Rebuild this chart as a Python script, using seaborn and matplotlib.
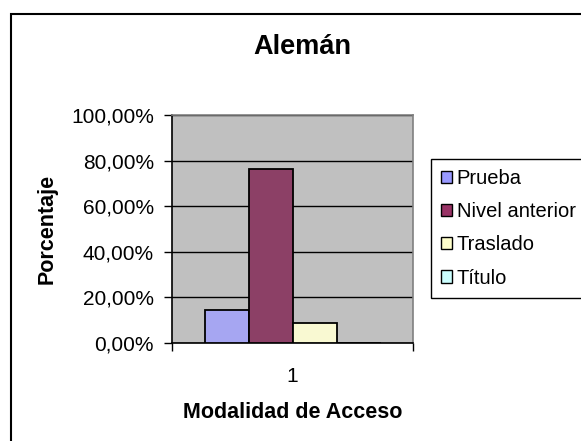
import matplotlib
matplotlib.use("Agg")
import matplotlib.pyplot as plt
import seaborn as sns
import pandas as pd
from matplotlib.ticker import FuncFormatter
from matplotlib.patches import Rectangle, Patch

categories = ["1"]
series = ["Prueba", "Nivel anterior", "Traslado", "Título"]
values = [14.5, 76.2, 8.8, 0.0]
colors = ["#9999FF", "#993366", "#FFFFCC", "#CCFFFF"]
y_ticks = [0, 20, 40, 60, 80, 100]

sns.set_theme(style="white")
plt.rcParams['font.family'] = ['Liberation Sans', 'DejaVu Sans']
plt.rcParams.update({"text.color": "black", "axes.labelcolor": "black",
                     "xtick.color": "black", "ytick.color": "black"})

df = pd.DataFrame({"Modalidad": categories * len(series), "Serie": series, "Valor": values})

fig = plt.figure(figsize=(5.81, 4.41), dpi=100)
fig.patch.set_facecolor("white")
ax = fig.add_axes([0.296, 0.222, 0.415, 0.517])
ax.set_facecolor("#C0C0C0")

sns.barplot(data=df, x="Modalidad", y="Valor", hue="Serie", hue_order=series,
            palette=colors, edgecolor="black", linewidth=1.3, width=0.73,
            ax=ax, legend=False, zorder=3)

ax.set_xlim(-0.5, 0.5)
ax.set_ylim(0, 100)
ax.set_yticks(y_ticks)
ax.yaxis.set_major_formatter(FuncFormatter(lambda v, p: f"{v:.2f}%".replace(".", ",")))
ax.grid(axis="y", color="black", linewidth=1.0, zorder=1)
ax.set_axisbelow(True)
ax.tick_params(axis="y", which="major", direction="out", length=6, width=1, color="black",
               labelsize=15, pad=7, left=True, labelcolor="black")
ax.set_xticks([0])
ax.set_xticklabels(categories)
ax.tick_params(axis="x", which="major", length=0, labelsize=15, pad=17, labelcolor="black")
ax.set_xticks([-0.5, 0.5], minor=True)
ax.tick_params(axis="x", which="minor", direction="out", length=6, width=1, color="black", bottom=True)

for s in ["left", "bottom"]:
    ax.spines[s].set_color("black")
    ax.spines[s].set_linewidth(1.2)
for s in ["top", "right"]:
    ax.spines[s].set_color("#808080")
    ax.spines[s].set_linewidth(1.2)

ax.set_xlabel("Modalidad de Acceso", fontsize=15.5, fontweight="bold", labelpad=12, color="black")
ax.set_ylabel("Porcentaje", fontsize=15.5, fontweight="bold", labelpad=10, color="black")

fig.text(0.52, 0.893, "Alemán", ha="center", va="center", fontsize=19.5, fontweight="bold",
         color="black")

handles = [Patch(facecolor=c, edgecolor="black", linewidth=1.0) for c in colors]
leg = fig.legend(handles, series, loc="upper left", bbox_to_anchor=(0.742, 0.639),
                 fontsize=14.5, frameon=True, fancybox=False, framealpha=1,
                 handlelength=0.55, handleheight=0.55, handletextpad=0.22,
                 labelspacing=0.7, borderpad=0.5, borderaxespad=0)
leg.get_frame().set_edgecolor("black")
leg.get_frame().set_linewidth(1.0)
for t in leg.get_texts():
    t.set_color("black")

fig.patches.append(Rectangle((11 / 581, -0.1), 1.2, 1.1 - 14 / 441,
                             transform=fig.transFigure, fill=False,
                             edgecolor="black", linewidth=1.5))

fig.savefig("out.png", dpi=100)
